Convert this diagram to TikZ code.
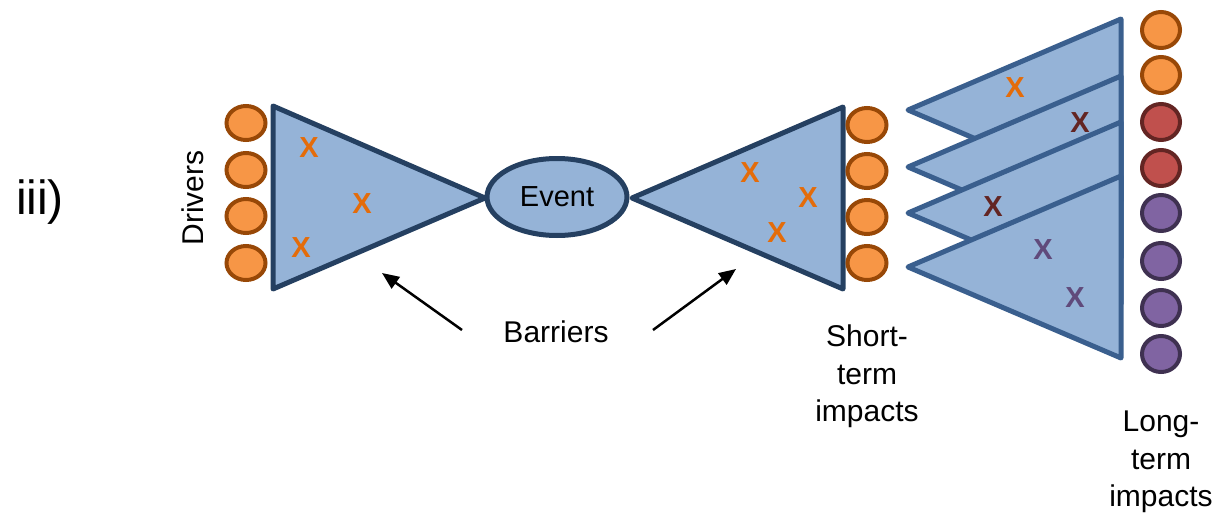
\documentclass[tikz,border=0pt]{standalone}
\usepackage{fontspec}
\setmainfont{Liberation Sans}
\usetikzlibrary{arrows.meta,shapes.geometric}

\definecolor{triFill}{HTML}{95B3D7}
\definecolor{triLine}{HTML}{254061}
\definecolor{stackLine}{HTML}{3A5F8E}
\definecolor{orFill}{HTML}{F79646}
\definecolor{orLine}{HTML}{984807}
\definecolor{orMark}{HTML}{E46C0A}
\definecolor{rdFill}{HTML}{C0504D}
\definecolor{rdLine}{HTML}{632523}
\definecolor{puFill}{HTML}{8064A2}
\definecolor{puLine}{HTML}{3F3151}
\definecolor{puMark}{HTML}{604A7B}

\tikzset{
  bowtie/.style={fill=triFill, draw=triLine, line width=5pt, line join=round},
  stacktri/.style={fill=triFill, draw=stackLine, line width=5pt, line join=round},
  dot/.style={ellipse, inner sep=0pt, line width=4pt, minimum width=39pt, minimum height=34pt},
  orDot/.style={dot, fill=orFill, draw=orLine},
  rdDot/.style={dot, fill=rdFill, draw=rdLine},
  puDot/.style={dot, fill=puFill, draw=puLine},
  xmark/.style={font=\bfseries\fontsize{29}{29}\selectfont, inner sep=0pt},
  label/.style={font=\fontsize{30}{37.5}\selectfont, inner sep=0pt, align=center},
  pointer/.style={line width=2.5pt, -{Triangle[length=17pt,width=14pt]}},
}

\begin{document}
\begin{tikzpicture}[x=1pt, y=-1pt]
\useasboundingbox (0,0) rectangle (1220,516);

% roman numeral
\node[font=\fontsize{48}{48}\selectfont, inner sep=0pt, anchor=base] (num) at (40,214) {iii)};

% left and right wings of the bow-tie
\draw[bowtie] (273,106) -- (485,198) -- (273,289) -- cycle;
\draw[bowtie] (843,107) -- (632,198) -- (843,289) -- cycle;

% central event
\node[ellipse, fill=triFill, draw=triLine, line width=5pt, minimum width=140pt,
      minimum height=77pt, inner sep=0pt, font=\fontsize{29}{29}\selectfont] (event) at (557,197) {Event};

% barrier marks
\node[xmark, text=orMark] (x1) at (309,148) {X};
\node[xmark, text=orMark] (x2) at (362,204) {X};
\node[xmark, text=orMark] (x3) at (301,248) {X};
\node[xmark, text=orMark] (x4) at (750,173) {X};
\node[xmark, text=orMark] (x5) at (808,198) {X};
\node[xmark, text=orMark] (x6) at (777,233) {X};

% drivers
\foreach \i/\y in {1/123, 2/170, 3/216, 4/263}
  \node[orDot] (drv\i) at (246,\y) {};
\node[label, rotate=90, anchor=base] (drivers) at (203,198) {Drivers};

% short-term impacts
\foreach \i/\y in {1/125, 2/171, 3/217, 4/263}
  \node[orDot] (st\i) at (867,\y) {};
\node[label, anchor=north] (stlab) at (867,325) {Short-\\term\\impacts};

% stacked long-term wings
\foreach \a in {110,167,213,267}
  \draw[stacktri] (1121,\a-91) -- (908,\a) -- (1121,\a+91) -- cycle;

\node[xmark, text=orMark] (x7) at (1015,88) {X};
\node[xmark, text=rdLine] (x8) at (1080,123) {X};
\node[xmark, text=rdLine] (x9) at (993,207) {X};
\node[xmark, text=puMark] (x10) at (1043,250) {X};
\node[xmark, text=puMark] (x11) at (1075,298) {X};

% long-term impacts
\foreach \i/\y/\s in {1/30/orDot, 2/75/orDot, 3/122/rdDot, 4/168/rdDot,
                      5/213/puDot, 6/261/puDot, 7/308/puDot, 8/354/puDot}
  \node[\s, minimum width=38pt, minimum height=36pt] (lt\i) at (1161,\y) {};
\node[label, anchor=north] (ltlab) at (1161,411) {Long-\\term\\impacts};

% barriers label with pointers
\node[label, anchor=base] (barriers) at (556,342) {Barriers};
\coordinate (ptrL) at (462,330);
\coordinate (ptrR) at (653,330);
\coordinate (tipL) at (382,273);
\coordinate (tipR) at (736,269);
\draw[pointer] (ptrL) -- (tipL);
\draw[pointer] (ptrR) -- (tipR);
\end{tikzpicture}
\end{document}
